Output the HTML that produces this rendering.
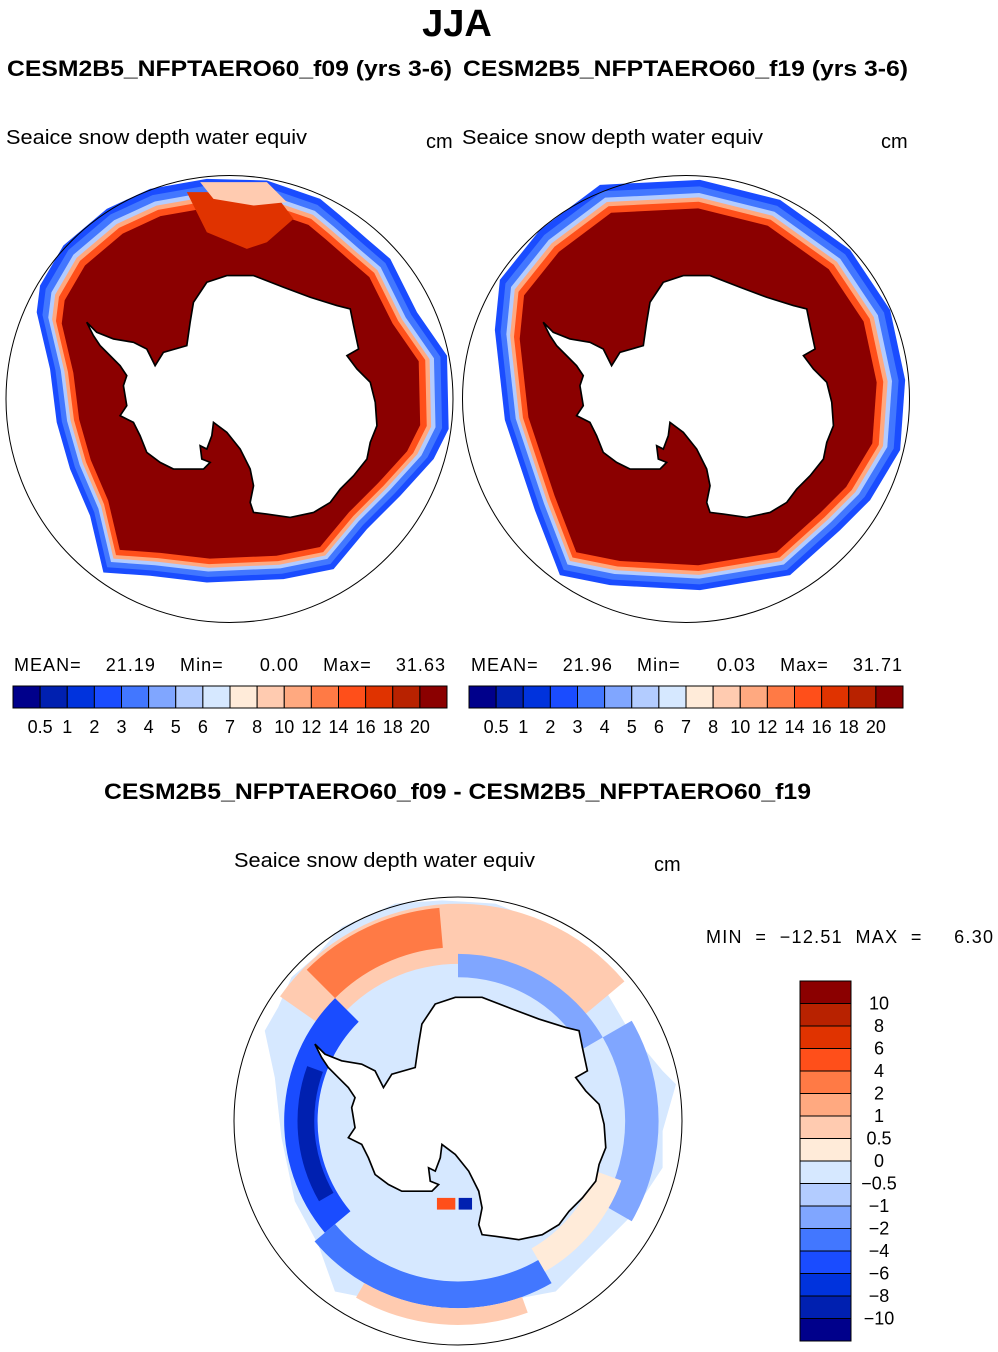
<!DOCTYPE html>
<html><head><meta charset="utf-8">
<style>
body{margin:0;background:#fff;}
svg{display:block;font-family:"Liberation Sans",sans-serif;}
.pre{white-space:pre;}
</style></head>
<body>
<svg id="fig" width="998" height="1352" viewBox="0 0 998 1352">
<text x="457" y="36" text-anchor="middle" font-size="38" font-weight="bold">JJA</text>
<text x="7" y="76" font-size="22" font-weight="bold" textLength="445" lengthAdjust="spacingAndGlyphs">CESM2B5_NFPTAERO60_f09 (yrs 3-6)</text>
<text x="463" y="76" font-size="22" font-weight="bold" textLength="445" lengthAdjust="spacingAndGlyphs">CESM2B5_NFPTAERO60_f19 (yrs 3-6)</text>
<text x="6" y="144" font-size="20" textLength="301" lengthAdjust="spacingAndGlyphs">Seaice snow depth water equiv</text>
<text x="426" y="148" font-size="20">cm</text>
<text x="462" y="144" font-size="20" textLength="301" lengthAdjust="spacingAndGlyphs">Seaice snow depth water equiv</text>
<text x="881" y="148" font-size="20">cm</text>
<text x="104" y="799" font-size="22" font-weight="bold" textLength="707" lengthAdjust="spacingAndGlyphs">CESM2B5_NFPTAERO60_f09 - CESM2B5_NFPTAERO60_f19</text>
<text x="234" y="867" font-size="20" textLength="301" lengthAdjust="spacingAndGlyphs">Seaice snow depth water equiv</text>
<text x="654" y="871" font-size="20">cm</text>
<text class="pre" x="706" y="943" font-size="18" textLength="287" lengthAdjust="spacing">MIN  =  −12.51  MAX  =     6.30</text>
<text class="pre" x="14" y="671" font-size="18" textLength="431" lengthAdjust="spacing">MEAN=    21.19    Min=      0.00    Max=    31.63</text>
<text class="pre" x="471" y="671" font-size="18" textLength="431" lengthAdjust="spacing">MEAN=    21.96    Min=      0.03    Max=    31.71</text>
<g id="maps"></g>
<g id="bars"></g>
</svg>
<script>
const colors=["#00008b","#0020b0","#0033dd","#1a4cff","#4277ff","#80a6ff","#b3ccff","#d6e8ff","#ffebd9","#ffcbb0","#ffa980","#ff7a45","#ff4f1a","#e03300","#b82200","#8b0000"];
const absLabels=["0.5","1","2","3","4","5","6","7","8","10","12","14","16","18","20"];
const diffLabels=["10","8","6","4","2","1","0.5","0","−0.5","−1","−2","−4","−6","−8","−10"];
const NS="http://www.w3.org/2000/svg";
const maps=document.getElementById('maps'), bars=document.getElementById('bars');
function mk(tag,attrs,parent){const e=document.createElementNS(NS,tag);for(const k in attrs)e.setAttribute(k,attrs[k]);parent.appendChild(e);return e;}
const continent=[[620,340],[680,320],[760,320],[850,355],[930,385],[1010,410],[1050,420],[1060,470],[1075,540],[1040,560],[1070,600],[1110,640],[1125,700],[1130,770],[1110,820],[1100,870],[1060,920],[1020,960],[990,1000],[940,1030],[870,1045],[800,1035],[760,1030],[750,1000],[760,950],[750,900],[720,840],[680,790],[640,760],[635,800],[620,840],[600,830],[605,870],[630,880],[610,900],[560,900],[520,900],[480,880],[440,850],[420,800],[400,760],[360,740],[380,710],[370,650],[380,620],[360,590],[330,560],[300,530],[280,500],[260,460],[290,490],[340,510],[400,520],[440,540],[465,590],[490,550],[560,530],[570,460],[580,400]];
const leftEdge=[[620,30],[800,35],[960,90],[1020,140],[1100,210],[1170,270],[1250,430],[1340,560],[1345,780],[1300,870],[1200,980],[1100,1080],[1000,1200],[850,1230],[620,1240],[450,1220],[310,1210],[270,1040],[210,900],[170,760],[150,600],[110,430],[120,350],[190,230],[320,120],[450,60]];
const rightEdge=[[430,48],[730,33],[970,93],[1180,243],[1300,423],[1345,633],[1330,843],[1240,993],[1150,1083],[1000,1218],[730,1263],[460,1248],[310,1218],[235,1023],[145,753],[115,483],[130,333],[250,183]];
const diffEdge=[[340,110],[500,40],[640,30],[800,40],[950,100],[1100,250],[1200,420],[1300,540],[1340,580],[1300,720],[1300,830],[1200,980],[1100,1080],[980,1200],[820,1230],[620,1240],[420,1220],[320,1200],[270,1060],[200,930],[160,740],[140,560],[110,420],[150,350],[190,260],[260,200]];
const C=[688,690];
function pts(arr,s){return arr.map(p=>[(C[0]+(p[0]-C[0])*s).toFixed(1),(C[1]+(p[1]-C[1])*s).toFixed(1)].join(',')).join(' ');}
function mapGroup(name,cx,cy,r){
  const g=mk('g',{transform:`translate(${cx},${cy}) scale(${r/670}) translate(${-C[0]},${-C[1]})`},maps);
  
  
  return g;}
function finish(g){
  const c=mk('polygon',{points:pts(continent,1),fill:'#fff',stroke:'#000','stroke-width':5},g);
  
  
  const o=mk('circle',{cx:C[0],cy:C[1],r:670,fill:'none',stroke:'#000','stroke-width':3},g);
  
  }
function iceMap(name,cx,cy,r,edge,orangeTop){
  const g=mapGroup(name,cx,cy,r);
  const layers=[[1,"#1a4cff"],[0.97,"#4277ff"],[0.94,"#b3ccff"],[0.92,"#ffa980"],[0.9,"#ff4f1a"],[0.87,"#8b0000"]];
  layers.forEach(l=>{const p=mk('polygon',{points:pts(edge,l[0]),fill:l[1]},g);
    
    });
  if(orangeTop){const p=mk('polygon',{points:"560,70 820,70 880,150 800,220 740,240 620,190",fill:"#e03300"},g);
    
    
    const q=mk('polygon',{points:"600,40 800,40 860,100 760,110 640,90",fill:"#ffcbb0"},g);
    
    }
  finish(g);}
iceMap('left-map',229.5,399,223.5,leftEdge,true);
iceMap('right-map',686,399,223.5,rightEdge,false);
(function(){
  const g=mapGroup('diff-map',458,1121,224);
  const base=mk('polygon',{points:pts(diffEdge,1),fill:"#d6e8ff"},g);
  
  
  function arc(a0,a1,r0,r1,fill,nm){const rad=a=>a*Math.PI/180;
    const P=(a,r)=>[C[0]+r*Math.cos(rad(a)),C[1]+r*Math.sin(rad(a))].map(v=>v.toFixed(1)).join(',');
    const big=(a1-a0)>180?1:0;
    const p=mk('path',{d:`M${P(a0,r1)} A${r1},${r1} 0 ${big} 1 ${P(a1,r1)} L${P(a1,r0)} A${r0},${r0} 0 ${big} 0 ${P(a0,r0)} Z`,fill:fill},g);
    
    }
  arc(215,320,470,650,"#ffcbb0",'diff-top-positive');
  arc(225,265,520,640,"#ff7a45",'diff-top-strong');
  arc(270,330,430,500,"#80a6ff",'diff-top-negative');
  arc(140,225,420,520,"#1a4cff",'diff-left-negative');
  arc(150,200,430,480,"#0020b0",'diff-left-strong');
  arc(60,140,480,560,"#4277ff",'diff-bottom-negative');
  arc(70,120,560,610,"#ffcbb0",'diff-bottom-positive');
  arc(330,30,500,600,"#80a6ff",'diff-right-negative');
  arc(20,60,440,520,"#ffebd9",'diff-right-positive');
  const s=mk('rect',{x:625,y:920,width:55,height:35,fill:"#ff4f1a"},g);
  
  
  const b=mk('rect',{x:690,y:920,width:40,height:35,fill:"#0020b0"},g);
  
  
  finish(g);})();
function hbar(name,x0,x1,y,h){
  const w=(x1-x0)/colors.length;
  colors.forEach((c,i)=>{const r=mk('rect',{x:x0+i*w,y:y,width:w,height:h,fill:c,stroke:'#000','stroke-width':1},bars);
    
    });
  absLabels.forEach((l,i)=>{const t=mk('text',{x:x0+(i+1)*w,y:y+h+25,'text-anchor':'middle','font-size':18},bars);t.textContent=l;
    
    });}
hbar('left-colorbar',13,447,686,22);
hbar('right-colorbar',469,903,686,22);
(function(){const x=800,y0=981,h=(1341-981)/colors.length;
  colors.slice().reverse().forEach((c,i)=>{const r=mk('rect',{x:x,y:y0+i*h,width:51,height:h,fill:c,stroke:'#000','stroke-width':1},bars);
    
    });
  diffLabels.forEach((l,i)=>{const t=mk('text',{x:879,y:y0+(i+1)*h+6,'text-anchor':'middle','font-size':18},bars);t.textContent=l;
    
    });})();
</script>
</body></html>
